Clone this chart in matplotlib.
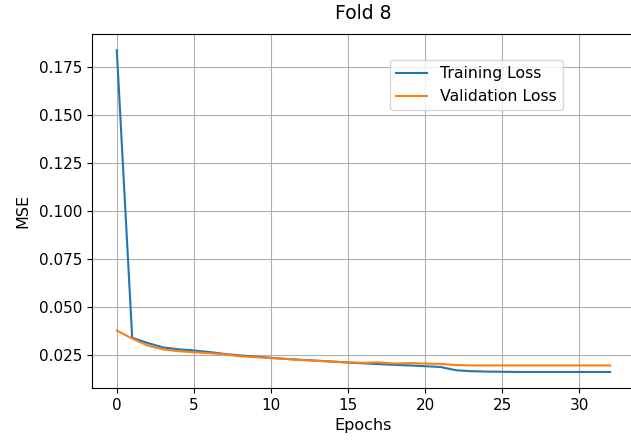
import matplotlib.pyplot as plt

# loss per epoch
train_loss = [0.184, 0.0342, 0.0315, 0.0292, 0.0282, 0.0276, 0.0268, 0.0258, 0.0250, 0.0244,
              0.0238, 0.0232, 0.0227, 0.0223, 0.0218, 0.0213, 0.0209, 0.0205, 0.0201, 0.0198,
              0.0194, 0.0190, 0.0173, 0.0168, 0.0166, 0.0165, 0.0164, 0.0164, 0.0164, 0.0164,
              0.0164, 0.0164, 0.0164]
val_loss = [0.0380, 0.0338, 0.0302, 0.0282, 0.0272, 0.0267, 0.0262, 0.0256, 0.0246, 0.0241,
            0.0236, 0.0232, 0.0226, 0.0222, 0.0218, 0.0214, 0.0212, 0.0214, 0.0208, 0.0210,
            0.0208, 0.0206, 0.0200, 0.0198, 0.0198, 0.0198, 0.0198, 0.0198, 0.0198, 0.0198,
            0.0198, 0.0198, 0.0198]
epochs = list(range(len(train_loss)))

fig, ax = plt.subplots(figsize=(6.31, 4.43), dpi=100)
ax.plot(epochs, train_loss, label='Training Loss')
ax.plot(epochs, val_loss, label='Validation Loss')
ax.set_title('Fold 8', fontsize=13.5, pad=11)
ax.set_xlabel('Epochs', fontsize=11.5)
ax.set_ylabel('MSE', fontsize=11.5, labelpad=6)
ax.tick_params(labelsize=11)
ax.grid(True)
ax.legend(loc='upper right', bbox_to_anchor=(0.882, 0.949), fontsize=11.3)

# the original image is cropped just past the right spine
ax.spines['right'].set_visible(False)
plt.subplots_adjust(left=0.146, right=1.006, top=0.923, bottom=0.124)
plt.savefig('out.png', dpi=100)
plt.close()
